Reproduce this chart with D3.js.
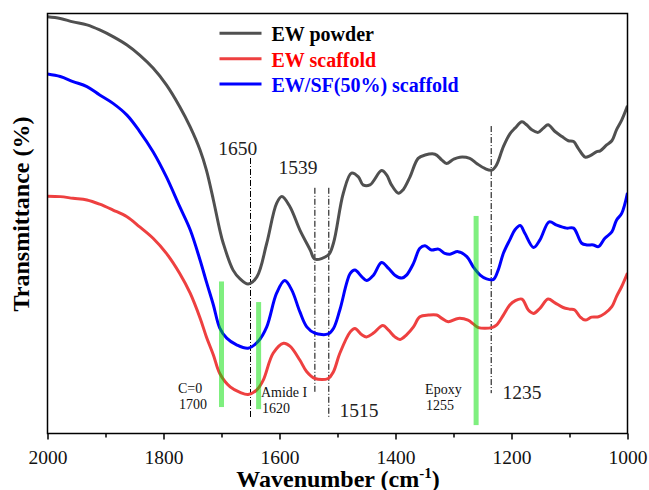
<!DOCTYPE html>
<html>
<head>
<meta charset="utf-8">
<script src="https://cdn.jsdelivr.net/npm/d3@7"></script>
<style>
  html, body { margin: 0; padding: 0; background: #fff; }
  svg { display: block; }
</style>
</head>
<body>
<svg id="chart" width="649" height="490"></svg>
<script>
// ---------- DATA ----------
const seriesNames = ["EW powder", "EW scaffold", "EW/SF(50%) scaffold"];
const lineColors = ["#505050", "#ee4040", "#0000ff"];
const legendTextColors = ["#000000", "#ff0000", "#0000ff"];

// wavenumber (cm-1), transmittance (a.u., %)
const powderWave = [2000,1978,1956,1932,1910,1887,1863,1841,1818,1795,1772,1754,1737,1726,1714,1703,1697,1680,1668,1654,1639,1622,1605,1596,1582,1565,1547,1539,1516,1507,1490,1476,1464,1456,1444,1424,1415,1407,1395,1387,1375,1361,1349,1332,1320,1312,1300,1289,1272,1260,1246,1234,1226,1214,1203,1194,1182,1174,1165,1154,1145,1137,1125,1113,1102,1093,1085,1073,1065,1053,1047,1036,1027,1019,1010,1000];
const powderT = [99.2,98.8,98.0,97.3,96.1,94.5,92.5,90.1,87.0,83.0,77.8,73.0,67.5,62.7,55.6,48.5,45.3,38.9,36.8,35.6,37.3,45.3,54.8,56.4,54.0,48.5,43.7,41.5,42.5,45.3,57.2,62.0,61.1,59.2,59.2,62.6,61.5,59.2,57.2,58.0,61.1,65.5,66.3,66.5,65.1,64.3,65.3,65.8,65.5,64.3,63.1,62.7,63.9,68.3,71.3,72.7,74.2,73.5,72.3,71.7,72.7,73.5,71.9,70.7,69.7,69.5,67.9,65.8,66.1,67.1,67.3,68.7,69.7,72.3,74.6,78.0];

const scaffoldWave = [2000,1978,1956,1932,1910,1887,1863,1841,1818,1795,1772,1754,1737,1726,1714,1703,1685,1668,1654,1639,1628,1611,1593,1582,1565,1553,1539,1516,1507,1496,1478,1470,1458,1450,1438,1422,1412,1401,1392,1381,1369,1358,1343,1329,1320,1309,1292,1275,1266,1257,1234,1226,1214,1203,1194,1182,1171,1162,1151,1137,1125,1111,1099,1091,1082,1073,1062,1050,1039,1027,1019,1010,1000];
const scaffoldT = [56.5,56.4,56.0,55.6,54.6,53.2,51.6,49.2,46.5,42.9,38.1,33.4,27.5,23.0,18.7,14.3,11.1,9.8,9.3,10.4,12.7,19.1,21.5,20.8,17.5,14.7,13.1,13.1,14.7,19.1,24.2,25.0,23.5,23.0,23.9,25.7,24.6,23.0,22.4,23.5,25.4,27.8,28.2,28.2,27.4,26.6,27.4,27.0,26.1,25.2,25.2,25.8,28.2,30.6,31.6,32.0,29.4,28.6,29.8,32.0,31.1,30.0,29.6,29.4,27.8,27.0,27.7,27.8,28.6,30.2,32.6,35.0,38.2];

const sfWave = [2000,1978,1956,1932,1910,1887,1863,1841,1818,1795,1772,1754,1737,1726,1714,1703,1691,1674,1654,1637,1622,1605,1591,1579,1565,1553,1539,1516,1507,1496,1478,1470,1458,1450,1438,1424,1412,1401,1389,1381,1369,1358,1349,1338,1326,1315,1306,1292,1277,1266,1254,1243,1231,1223,1214,1203,1194,1185,1177,1162,1151,1135,1122,1105,1093,1079,1070,1059,1050,1039,1027,1019,1010,1000];
const sfT = [85.6,85.0,83.8,82.6,80.6,78.6,75.8,71.9,67.1,61.1,54.0,48.5,41.3,36.1,30.6,25.1,22.7,21.1,20.3,21.9,25.4,33.4,36.4,34.2,29.0,25.4,23.9,23.7,25.0,29.4,38.1,38.9,37.3,36.4,37.7,40.7,39.3,37.7,37.0,37.7,40.5,44.1,44.7,43.7,43.9,42.9,42.7,43.3,42.1,39.7,37.7,36.8,36.7,38.9,42.9,46.1,48.5,49.5,47.7,44.3,46.1,50.4,49.6,48.9,48.9,45.3,44.9,44.9,44.5,46.5,48.0,50.8,52.4,57.3];

const majorTicks = [2000, 1800, 1600, 1400, 1200, 1000];
const minorTicks = [1900, 1700, 1500, 1300, 1100];

// annotation content
const dashWave = [1650, 1539, 1515, 1235];
const dashTop = [65.6, 58.5, 58.5, 73.2];
const dashBottom = [3.7, 9.6, 3.9, 9.6];
const peakLabels = ["1650", "1539", "1515", "1235"];
const greenWave = [1700, 1636, 1261];
const greenTop = [36.2, 31.3, 51.8];
const greenBottom = [6.3, 5.8, 2.0];
const bandLines1 = ["C=0", "Amide I", "Epoxy"];
const bandLines2 = ["1700", "1620", "1255"];

// ---------- CHART ----------
const svg = d3.select("#chart");
const L = 47.5, R = 627.5, T = 13.5, B = 433.5;
const x = d3.scaleLinear().domain([2000, 1000]).range([L, R]);
const y = d3.scaleLinear().domain([0, 100]).range([B, T]);

const serif = "'Liberation Serif','Times New Roman',serif";

const seriesData = [
  powderWave.map((w, i) => [w, powderT[i]]),
  scaffoldWave.map((w, i) => [w, scaffoldT[i]]),
  sfWave.map((w, i) => [w, sfT[i]])
];

const line = d3.line()
  .x(d => x(d[0]))
  .y(d => y(d[1]))
  .curve(d3.curveCatmullRom.alpha(0.5));

svg.append("clipPath").attr("id", "clip")
  .append("rect").attr("x", L).attr("y", T).attr("width", R - L).attr("height", B - T);

// dash-dot lines
svg.append("g").selectAll("line").data(dashWave).join("line")
  .attr("x1", d => x(d)).attr("x2", d => x(d))
  .attr("y1", (d, i) => y(dashTop[i])).attr("y2", (d, i) => y(dashBottom[i]))
  .attr("stroke", "#000").attr("stroke-width", 1)
  .attr("stroke-dasharray", "6,2,1,2");

// curves
svg.append("g").attr("clip-path", "url(#clip)")
  .selectAll("path").data(seriesData).join("path")
  .attr("d", line)
  .attr("fill", "none")
  .attr("stroke", (d, i) => lineColors[i])
  .attr("stroke-width", 3)
  .attr("stroke-linejoin", "round");

// green band markers
svg.append("g").selectAll("rect").data(greenWave).join("rect")
  .attr("x", d => x(d) - 2.5).attr("width", 5)
  .attr("y", (d, i) => y(greenTop[i]))
  .attr("height", (d, i) => y(greenBottom[i]) - y(greenTop[i]))
  .attr("fill", "#00e000").attr("opacity", 0.5);

// peak labels
const peakPos = [[1672, 155], [1568, 174], [1463, 416.5], [1182, 399]];
svg.append("g").selectAll("text").data(peakLabels).join("text")
  .attr("x", (d, i) => x(peakPos[i][0]))
  .attr("y", (d, i) => peakPos[i][1])
  .attr("text-anchor", "middle")
  .attr("font-family", serif).attr("font-size", 19.5)
  .attr("fill", "#222")
  .text(d => d);

// band labels
const bandX = [1775, 1632, 1349];
const bandY = [393, 397, 394];
const bg = svg.append("g").attr("font-family", serif).attr("font-size", 14).attr("fill", "#111");
bandLines1.forEach((t, i) => {
  bg.append("text").attr("x", x(bandX[i])).attr("y", bandY[i]).text(t);
  bg.append("text").attr("x", x(bandX[i]) + 1).attr("y", bandY[i] + 16).text(bandLines2[i]);
});

// frame
svg.append("rect").attr("x", L).attr("y", T).attr("width", R - L).attr("height", B - T)
  .attr("fill", "none").attr("stroke", "#000").attr("stroke-width", 1.5);

// axes
const ax = svg.append("g").attr("transform", `translate(0,${B})`)
  .call(d3.axisBottom(x).tickValues(majorTicks).tickSize(6).tickFormat(d3.format("d")))
  .attr("font-family", serif).attr("font-size", 19.5);
ax.select(".domain").remove();
ax.selectAll(".tick line").attr("stroke", "#000").attr("stroke-width", 1.5);
ax.selectAll(".tick text")
  .attr("font-family", serif).attr("font-size", 19.5).attr("fill", "#111")
  .attr("y", 17).attr("dy", "0.71em");

const axm = svg.append("g").attr("transform", `translate(0,${B})`)
  .call(d3.axisBottom(x).tickValues(minorTicks).tickSize(4).tickFormat(""));
axm.select(".domain").remove();
axm.selectAll(".tick line").attr("stroke", "#000").attr("stroke-width", 1.5);

// axis titles
const xt = svg.append("text").attr("x", (L + R) / 2 + 0.5).attr("y", 486.5)
  .attr("text-anchor", "middle")
  .attr("font-family", serif).attr("font-weight", "bold").attr("font-size", 24);
xt.append("tspan").text("Wavenumber (cm");
xt.append("tspan").attr("font-size", 15).attr("dy", -9).text("-1");
xt.append("tspan").attr("dy", 9).text(")");

svg.append("text")
  .attr("transform", "translate(29,214) rotate(-90)")
  .attr("text-anchor", "middle")
  .attr("font-family", serif).attr("font-weight", "bold").attr("font-size", 24)
  .text("Transmittance (%)");

// legend
const lg = svg.append("g");
seriesNames.forEach((name, i) => {
  const yy = 33.3 + i * 25.4;
  lg.append("line").attr("x1", 219.5).attr("x2", 261.5).attr("y1", yy).attr("y2", yy)
    .attr("stroke", lineColors[i]).attr("stroke-width", 3);
  lg.append("text").attr("x", 271.5).attr("y", yy + 8)
    .attr("font-family", serif).attr("font-weight", "bold").attr("font-size", 20)
    .attr("fill", legendTextColors[i]).text(name);
});
</script>
</body>
</html>
